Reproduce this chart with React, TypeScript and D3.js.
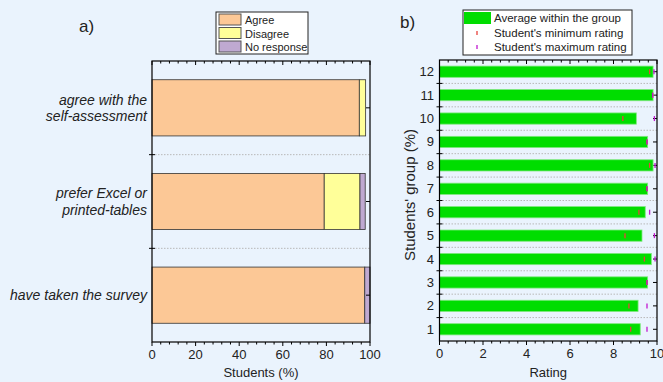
import React, { useEffect, useRef } from 'react';
import * as d3 from 'd3';

// panel a) — survey answers, percent of students
const questions = ['agree with the\nself-assessment', 'prefer Excel or\nprinted-tables', 'have taken the survey'];
const agree = [95.1, 79.0, 97.6];
const disagree = [2.9, 16.4, 0];
const noResponse = [0, 2.4, 2.4];
const answerNames = ['Agree', 'Disagree', 'No response'];
const answerColors = ['#fcc896', '#ffff99', '#bfa9d1'];
const studentTicks = [0, 20, 40, 60, 80, 100];

// panel b) — ratings per students' group
const groups = [12, 11, 10, 9, 8, 7, 6, 5, 4, 3, 2, 1];
const avgRating = [9.82, 9.82, 9.05, 9.57, 9.82, 9.57, 9.46, 9.31, 9.74, 9.57, 9.13, 9.23];
const minRating = [9.66, 9.8, 8.43, 9.54, 9.66, 9.54, 9.17, 8.53, 9.42, 9.54, 8.71, 8.79];
const maxRating = [9.86, 9.8, 9.88, 9.54, 9.91, 9.54, 9.66, 9.88, 9.91, 9.54, 9.54, 9.54];
const ratingTicks = [0, 2, 4, 6, 8, 10];

const W = 663;
const H = 382;
const FONT = '"Liberation Sans", Arial, sans-serif';
const BG = '#eaf3fd';

const App: React.FC = () => {
  const svgRef = useRef<SVGSVGElement>(null);

  useEffect(() => {
    if (!svgRef.current) return;
    const svg = d3.select(svgRef.current);
    svg.selectAll('*').remove();
    svg.append('rect').attr('width', W).attr('height', H).attr('fill', BG);

    const frame = (g: any, x0: number, x1: number, y0: number, y1: number) => {
      g.append('rect')
        .attr('x', x0).attr('y', y0)
        .attr('width', x1 - x0).attr('height', y1 - y0)
        .attr('fill', 'none').attr('stroke', '#000').attr('stroke-width', 1.2);
    };

    const xTicks = (g: any, x: d3.ScaleLinear<number, number>, major: number[], y0: number, y1: number) => {
      const step = (major[1] - major[0]) / 5;
      const minor = d3.range(major[0], major[major.length - 1] + step / 2, step);
      minor.forEach(v => {
        const isMajor = major.some(m => Math.abs(m - v) < 1e-6);
        const len = isMajor ? 4 : 2.5;
        g.append('line').attr('x1', x(v)).attr('x2', x(v)).attr('y1', y1).attr('y2', y1 + len).attr('stroke', '#000');
        g.append('line').attr('x1', x(v)).attr('x2', x(v)).attr('y1', y0).attr('y2', y0 + len).attr('stroke', '#000');
      });
      major.forEach(v => {
        g.append('text').attr('x', x(v)).attr('y', y1 + 17)
          .attr('text-anchor', 'middle').attr('font-size', 13).attr('fill', '#222').text(v);
      });
    };

    // ---------- panel a ----------
    const a = svg.append('g').attr('font-family', FONT);
    const ax = d3.scaleLinear().domain([0, 100]).range([152, 370]);
    const ay = d3.scaleBand().domain(questions).range([61, 342]).paddingInner(0.4).paddingOuter(0.2);
    const step = ay.step();

    const stacked = d3.stack<number>()
      .keys(['0', '1', '2'])
      .value((i, k) => [agree, disagree, noResponse][+k][i])(d3.range(questions.length));

    // dotted separators
    questions.slice(1).forEach(q => {
      const y = (ay(q) || 0) - step * 0.2;
      a.append('line').attr('x1', ax(0)).attr('x2', ax(100)).attr('y1', y).attr('y2', y)
        .attr('stroke', '#b8b8b8').attr('stroke-dasharray', '1.5,1.5');
      a.append('line').attr('x1', ax(0) - 3).attr('x2', ax(0) + 3).attr('y1', y).attr('y2', y).attr('stroke', '#000');
    });

    stacked.forEach((layer, k) => {
      a.selectAll(null).data(layer).enter().append('rect')
        .attr('x', d => ax(d[0]))
        .attr('y', (d, i) => ay(questions[i]) || 0)
        .attr('width', d => Math.max(0, ax(d[1]) - ax(d[0])))
        .attr('height', ay.bandwidth())
        .attr('fill', answerColors[k])
        .attr('stroke', '#333').attr('stroke-width', 0.8)
        .attr('display', d => (d[1] - d[0] > 0 ? null : 'none'));
    });

    questions.forEach(q => {
      const cy = (ay(q) || 0) + ay.bandwidth() / 2;
      a.append('line').attr('x1', ax(100) - 4).attr('x2', ax(100)).attr('y1', cy).attr('y2', cy).attr('stroke', '#000');
      const lines = q.split('\n');
      lines.forEach((l, i) => {
        a.append('text').attr('x', 147)
          .attr('y', cy + (i - (lines.length - 1) / 2) * 16.6 + 5)
          .attr('text-anchor', 'end').attr('font-size', 14).attr('font-style', 'italic')
          .attr('fill', '#222').text(l);
      });
    });

    frame(a, ax(0), ax(100), 61, 342);
    xTicks(a, ax, studentTicks, 61, 342);
    a.append('text').attr('x', ax(50)).attr('y', 377).attr('text-anchor', 'middle')
      .attr('font-size', 13).attr('fill', '#222').text('Students (%)');
    a.append('text').attr('x', 79).attr('y', 32).attr('font-size', 17).attr('fill', '#222').text('a)');

    // legend a
    const la = a.append('g');
    la.append('rect').attr('x', 216).attr('y', 12).attr('width', 92).attr('height', 42)
      .attr('fill', '#fff').attr('stroke', '#222');
    answerNames.forEach((n, i) => {
      la.append('rect').attr('x', 219).attr('y', 14 + i * 13.5).attr('width', 22).attr('height', 11)
        .attr('fill', answerColors[i]).attr('stroke', '#555');
      la.append('text').attr('x', 245).attr('y', 24 + i * 13.5).attr('font-size', 11).attr('fill', '#222').text(n);
    });

    // ---------- panel b ----------
    const b = svg.append('g').attr('font-family', FONT);
    const bx = d3.scaleLinear().domain([0, 10]).range([439.5, 657]);
    const by = d3.scaleBand<number>().domain(groups).range([60, 341]).paddingInner(0.52).paddingOuter(0.26);
    const bstep = by.step();

    groups.forEach((g, i) => {
      const top = by(g) || 0;
      const cy = top + by.bandwidth() / 2;
      if (i > 0) {
        const y = top - bstep * 0.26;
        b.append('line').attr('x1', bx(0)).attr('x2', bx(10)).attr('y1', y).attr('y2', y)
          .attr('stroke', '#b8b8b8').attr('stroke-dasharray', '1.5,1.5');
        b.append('line').attr('x1', bx(0) - 3).attr('x2', bx(0) + 3).attr('y1', y).attr('y2', y).attr('stroke', '#000');
      }
      b.append('line').attr('x1', bx(10) - 4).attr('x2', bx(10)).attr('y1', cy).attr('y2', cy).attr('stroke', '#000');
      b.append('text').attr('x', 434).attr('y', cy + 4.5).attr('text-anchor', 'end')
        .attr('font-size', 13).attr('fill', '#222').text(g);
    });

    b.selectAll(null).data(avgRating).enter().append('rect')
      .attr('x', bx(0))
      .attr('y', (d, i) => by(groups[i]) || 0)
      .attr('width', d => bx(d) - bx(0))
      .attr('height', by.bandwidth())
      .attr('fill', '#00dd00').attr('stroke', '#7fe87f').attr('stroke-width', 0.8);

    const marker = (vals: number[], color: string) => {
      b.selectAll(null).data(vals).enter().append('line')
        .attr('x1', d => bx(d)).attr('x2', d => bx(d))
        .attr('y1', (d, i) => (by(groups[i]) || 0) + by.bandwidth() / 2 - 2.5)
        .attr('y2', (d, i) => (by(groups[i]) || 0) + by.bandwidth() / 2 + 2.5)
        .attr('stroke', color).attr('stroke-width', 1.3);
    };
    marker(minRating, '#e8413c');
    marker(maxRating, '#c018d0');

    frame(b, bx(0), bx(10), 60, 341);
    xTicks(b, bx, ratingTicks, 60, 341);
    b.append('text').attr('x', bx(5)).attr('y', 377).attr('text-anchor', 'middle')
      .attr('font-size', 13).attr('fill', '#222').text('Rating');
    b.append('text').attr('transform', `translate(415, 195) rotate(-90)`)
      .attr('text-anchor', 'middle').attr('font-size', 15).attr('fill', '#222').text("Students' group (%)");
    b.append('text').attr('x', 400).attr('y', 28).attr('font-size', 17).attr('fill', '#222').text('b)');

    // legend b
    const lb = b.append('g');
    lb.append('rect').attr('x', 463).attr('y', 10).attr('width', 169).attr('height', 45)
      .attr('fill', '#fff').attr('stroke', '#222');
    lb.append('rect').attr('x', 464).attr('y', 12).attr('width', 27).attr('height', 12).attr('fill', '#00dd00');
    lb.append('line').attr('x1', 477).attr('x2', 477).attr('y1', 31).attr('y2', 35).attr('stroke', '#e8413c').attr('stroke-width', 1.3);
    lb.append('line').attr('x1', 477).attr('x2', 477).attr('y1', 45).attr('y2', 49).attr('stroke', '#c018d0').attr('stroke-width', 1.3);
    ['Average within the group', "Student's minimum rating", "Student's maximum rating"].forEach((t, i) => {
      lb.append('text').attr('x', 494).attr('y', 22 + i * 14.5).attr('font-size', 11.5).attr('fill', '#222').text(t);
    });
  }, []);

  return (
    <svg ref={svgRef} width={W} height={H} style={{ position: 'absolute', left: 0, top: 0 }}></svg>
  );
};

export default App;
